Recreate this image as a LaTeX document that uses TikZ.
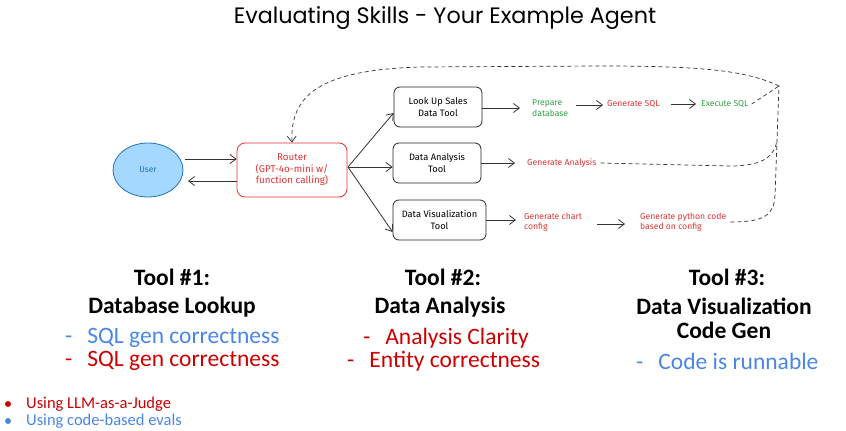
\documentclass[tikz,border=0pt]{standalone}
\usepackage{fontspec}
\setmainfont{Carlito}
\newfontfamily\titlefont{Poppins}
\newfontfamily\sketchfont{Fira Sans}
\usetikzlibrary{arrows.meta,shapes.geometric}
\definecolor{skred}{HTML}{E03131}
\definecolor{skgreen}{HTML}{2F9E44}
\definecolor{userfill}{HTML}{A5D8FF}
\definecolor{userdraw}{HTML}{1971C2}
\definecolor{evred}{HTML}{CC0000}
\definecolor{evblue}{HTML}{4A86E8}
\tikzset{
  toolbox/.style={draw=black!85, line width=0.8pt, rounded corners=6pt, minimum height=40pt, align=center, font=\sketchfont\fontsize{9.3}{11.5}\selectfont},
  sklabel/.style={align=left, inner sep=0pt, anchor=west, font=\sketchfont\fontsize{8.6}{10.5}\selectfont},
  arr/.style={line width=0.8pt, draw=black!80, -{Straight Barb[length=6pt,width=9pt]}},
  dsh/.style={line width=0.7pt, draw=black!80, dash pattern=on 4pt off 3pt},
  tooltitle/.style={font=\bfseries\fontsize{23.5}{23.5}\selectfont, inner sep=0pt},
  evitem/.style={font=\fontsize{23.5}{28}\selectfont, inner sep=0pt, anchor=west},
  legend/.style={font=\fontsize{16.5}{19}\selectfont, inner sep=0pt, anchor=west},
}
\begin{document}
\begin{tikzpicture}[x=1pt,y=-1pt]
\useasboundingbox (0,0) rectangle (846,431);
% title
\node[font=\titlefont\fontsize{22.3}{26}\selectfont, inner sep=0pt] (title) at (445,18) {Evaluating Skills - Your Example Agent};
% user and router
\node[ellipse, draw=userdraw, fill=userfill, line width=0.8pt, minimum width=70pt, minimum height=54pt, font=\sketchfont\fontsize{8.5}{10}\selectfont, text=userdraw] (user) at (148,170) {User};
\node[draw=skred, line width=0.8pt, rounded corners=8pt, minimum width=110pt, minimum height=54pt, align=center, text=skred, font=\sketchfont\fontsize{9.8}{11.5}\selectfont] (router) at (292,170) {Router\\(GPT-4o-mini w/\\function calling)};
\draw[arr] (185,159) -- (router.west |- 0,159);
\draw[arr] (router.west |- 0,181) -- (188,181);
% tools
\node[toolbox, minimum width=88pt] (lookup) at (438,107) {Look Up Sales\\Data Tool};
\node[toolbox, minimum width=88pt] (analysis) at (437,163) {Data Analysis\\Tool};
\node[toolbox, minimum width=93pt] (viz) at (439.5,220) {Data Visualization\\Tool};
\coordinate (rout) at (348,167);
\draw[arr] (rout) -- (lookup.west |- 0,113);
\draw[arr] (rout) -- (analysis.west |- 0,167);
\draw[arr] (rout) -- (viz.west |- 0,232);
% row 1
\node[sklabel, text=skgreen] (prep) at (532,108) {Prepare\\database};
\node[sklabel, text=skred] (gensql) at (607,104) {Generate SQL};
\node[sklabel, text=skgreen] (exec) at (701,104) {Execute SQL};
\draw[arr] (lookup.east |- 0,108) -- (520,108);
\draw[arr] (576,105) -- (603,105);
\draw[arr] (671,104) -- (696,104);
% row 2
\node[sklabel, text=skred] (genan) at (527,163) {Generate Analysis};
\draw[arr] (analysis.east |- 0,163) -- (515,163);
% row 3
\node[sklabel, text=skred] (genchart) at (524,222) {Generate chart\\config};
\node[sklabel, text=skred] (genpy) at (640,222) {Generate python code\\based on config};
\draw[arr] (viz.east |- 0,220) -- (516,220);
\draw[arr] (597,224) -- (625,224);
% dashed feedback loop
\coordinate (corner) at (779,86);
\draw[dsh] (exec.east) ++(3,0) -- (corner);
\draw[dsh, -{Straight Barb[length=6pt,width=9pt]}] (corner) .. controls (745,70) and (700,66) .. (600,66)
  -- (420,67) .. controls (320,70) and (290,95) .. (router.north -| 292,0);
\draw[dsh] (genan.east) ++(4,0) -- (730,166) .. controls (765,166) and (775,155) .. (777,140);
\draw[dsh] (genpy.east) ++(4,0) .. controls (765,222) and (774,215) .. (775,195) -- (777,140) -- (corner);
% bottom section
\node[tooltitle] (t1) at (172,277) {Tool \#1:};
\node[tooltitle] (t1b) at (172,307) {Database Lookup};
\node[evitem, text=evblue] (e1a) at (65,338) {-\hspace{15pt}SQL gen correctness};
\node[evitem, text=evred] (e1b) at (65,361) {-\hspace{15pt}SQL gen correctness};
\node[tooltitle] (t2) at (443,277) {Tool \#2:};
\node[tooltitle] (t2b) at (440,307) {Data Analysis};
\node[evitem, text=evred] (e2a) at (363,338) {-\hspace{15pt}Analysis Clarity};
\node[evitem, text=evred] (e2b) at (347,361) {-\hspace{15pt}Entity correctness};
\node[tooltitle] (t3) at (727,277) {Tool \#3:};
\node[tooltitle, align=center] (t3b) at (724,318.5) {Data Visualization\\Code Gen};
\node[evitem, text=evblue] (e3a) at (636,361) {-\hspace{15pt}Code is runnable};
% legend
\fill[evred] (8,404) circle (3pt);
\node[legend, text=evred] (l1) at (26,404) {Using LLM-as-a-Judge};
\fill[evblue] (8,421) circle (3pt);
\node[legend, text=evblue] (l2) at (26,421) {Using code-based evals};
\end{tikzpicture}
\end{document}
